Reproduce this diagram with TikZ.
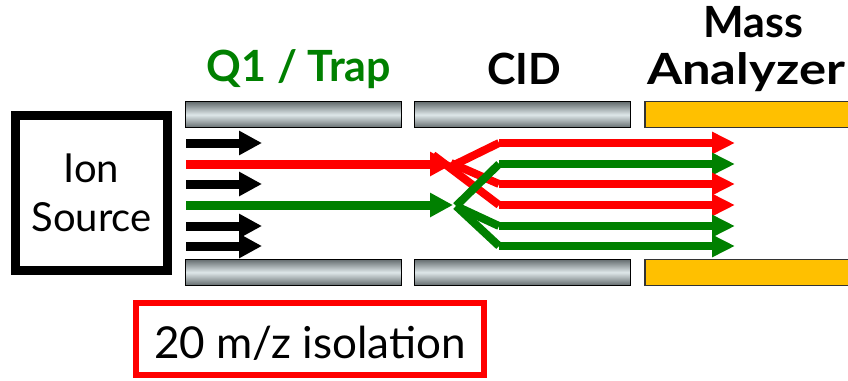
\documentclass[tikz,border=0pt]{standalone}
\usepackage{fontspec}
\setmainfont{Lato}
\usetikzlibrary{arrows.meta}
\definecolor{myred}{RGB}{255,0,0}
\definecolor{mygreen}{RGB}{0,128,0}
\definecolor{myorange}{RGB}{255,192,0}
\definecolor{roddark}{RGB}{100,108,110}
\definecolor{rodlight}{RGB}{222,231,233}
\begin{document}
\begin{tikzpicture}[x=1pt,y=-1pt,
  rod/.style={draw=black, line width=1.3pt, top color=roddark, bottom color=roddark, middle color=rodlight, minimum height=26pt, inner sep=0pt},
  marod/.style={draw=black!80, line width=1.3pt, fill=myorange, minimum height=26pt, inner sep=0pt},
  karr/.style={line width=9pt, -{Triangle[length=23pt,width=23pt]}},
  farr/.style={line width=8pt, -{Triangle[length=23pt,width=21pt]}},
  branch/.style={line width=8pt, line cap=butt},
  title/.style={font=\fontsize{43}{47}\selectfont\bfseries, anchor=base, inner sep=0pt},
]
\useasboundingbox (0,0) rectangle (848,380);

% rods
\node[rod, minimum width=216pt] (q1top) at (293.5,114.7) {};
\node[rod, minimum width=216pt] (q1bot) at (293.5,272.3) {};
\node[rod, minimum width=216pt] (cidtop) at (522.5,114.7) {};
\node[rod, minimum width=216pt] (cidbot) at (522.5,272.3) {};
\node[marod, minimum width=220pt] (matop) at (755,114.7) {};
\node[marod, minimum width=220pt] (mabot) at (755,272.3) {};

% titles
\node[title, text=mygreen] (q1lab) at (299,81.7) {Q1 / Trap};
\node[title] (cidlab) at (524,84) {CID};
\node[title] (masslab) at (753,37) {Mass};
\node[title] (analab) at (746,84) {\scalebox{1.18}[1]{Analyzer}};

% ion source
\node[draw=black, line width=9pt, minimum width=152pt, minimum height=155pt, inner sep=0pt,
      align=center, font=\fontsize{40}{48.7}\selectfont] (src) at (91.5,193) {Ion\\Source};

% isolation box
\node[draw=myred, line width=5.5pt, minimum width=348pt, minimum height=72pt, inner sep=0pt,
      text height=38pt, text depth=0pt, font=\fontsize{44}{50}\selectfont] (iso) at (310,339) {20 m/z isolation};

% black ion arrows
\foreach \y [count=\i] in {143,184,226,246} {
  \coordinate (bs\i) at (186,\y);
  \coordinate (be\i) at (262,\y);
  \draw[karr, black] (bs\i) -- (be\i);
}

% selected precursors
\coordinate (rs) at (186,164);
\coordinate (re) at (453,164);
\coordinate (gs) at (186,205);
\coordinate (ge) at (453,205);
\draw[karr, myred] (rs) -- (re);
\draw[karr, mygreen] (gs) -- (ge);

% fragment arrows
\foreach \y/\c [count=\i] in {143/myred,164/mygreen,184/myred,205/myred,226/mygreen,246/mygreen} {
  \coordinate (fs\i) at (499,\y);
  \coordinate (fe\i) at (735,\y);
  \draw[farr, \c] (fs\i) -- (fe\i);
}

% red fragmentation branches
\coordinate (rv1) at (452,166);
\coordinate (rv2) at (433,155);
\coordinate (rv3) at (451,163);
\draw[branch, myred] (rv1) -- (fs1);
\draw[branch, myred] (rv2) -- (fs4);
\draw[branch, myred] (rv3) -- (fs3);

% green fragmentation branches
\coordinate (gv) at (456,206);
\draw[branch, mygreen] (gv) -- (fs2);
\draw[branch, mygreen] (gv) -- (fs5);
\draw[branch, mygreen] (gv) -- (fs6);
\end{tikzpicture}
\end{document}
